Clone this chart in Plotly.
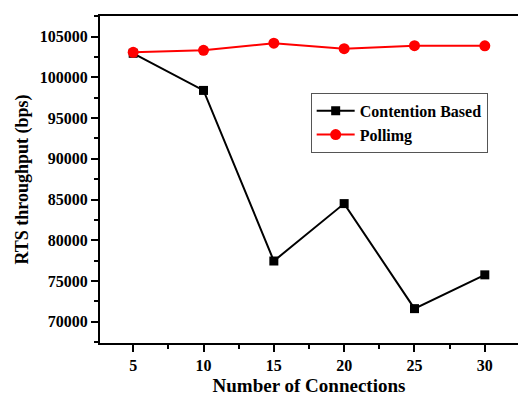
import plotly.graph_objects as go

connections = [5, 10, 15, 20, 25, 30]
contention = [102960, 98400, 77450, 84500, 71600, 75750]
polling = [103080, 103330, 104200, 103530, 103900, 103880]
y_ticks = [70000, 75000, 80000, 85000, 90000, 95000, 100000, 105000]
x_ticks = [5, 10, 15, 20, 25, 30]

font_family = "Liberation Serif"

fig = go.Figure()
fig.add_trace(go.Scatter(
    x=connections, y=contention, name="<b>Contention Based</b>",
    mode="lines+markers",
    line=dict(color="black", width=2),
    marker=dict(symbol="square", size=9, color="black"),
))
fig.add_trace(go.Scatter(
    x=connections, y=polling, name="<b>Pollimg</b>",
    mode="lines+markers",
    line=dict(color="red", width=2),
    marker=dict(symbol="circle", size=11, color="red"),
))

fig.update_layout(
    width=519, height=396,
    margin=dict(l=100, r=1, t=16, b=53),
    paper_bgcolor="white", plot_bgcolor="white",
    font=dict(family=font_family, color="black", size=16),
    showlegend=True,
    legend=dict(
        x=0.504, y=0.765, xanchor="left", yanchor="top",
        bordercolor="#555", borderwidth=1, bgcolor="white",
        font=dict(family=font_family, size=16, color="black"),
        tracegroupgap=0, itemwidth=38,
    ),
    xaxis=dict(
        range=[2.64, 32.36],
        automargin=False,
        tickvals=x_ticks, ticktext=[f"<b>{v}</b>" for v in x_ticks],
        showgrid=False, zeroline=False,
        showline=True, linecolor="black", linewidth=2, mirror=True,
        ticks="outside", ticklen=7, tickwidth=2, tickcolor="black",
        minor=dict(ticks="outside", ticklen=4, tickwidth=2, tickcolor="black",
                   tickvals=[7.5, 12.5, 17.5, 22.5, 27.5]),
        tickfont=dict(size=16, family=font_family),
        title=dict(text="<b>Number of Connections</b>", font=dict(size=19, family=font_family), standoff=10),
    ),
    yaxis=dict(
        range=[67380, 107540],
        automargin=False,
        tickvals=y_ticks, ticktext=[f"<b>{v}</b>" for v in y_ticks],
        showgrid=False, zeroline=False,
        showline=True, linecolor="black", linewidth=2, mirror=False,
        ticks="outside", ticklen=7, tickwidth=2, tickcolor="black",
        minor=dict(ticks="outside", ticklen=4, tickwidth=2, tickcolor="black",
                   tickvals=[67500, 72500, 77500, 82500, 87500, 92500, 97500, 102500, 107500]),
        tickfont=dict(size=16, family=font_family),
        title=dict(text="<b>RTS throughput (bps)</b>", font=dict(size=18, family=font_family), standoff=6),
    ),
)

fig.write_html("out.html")
